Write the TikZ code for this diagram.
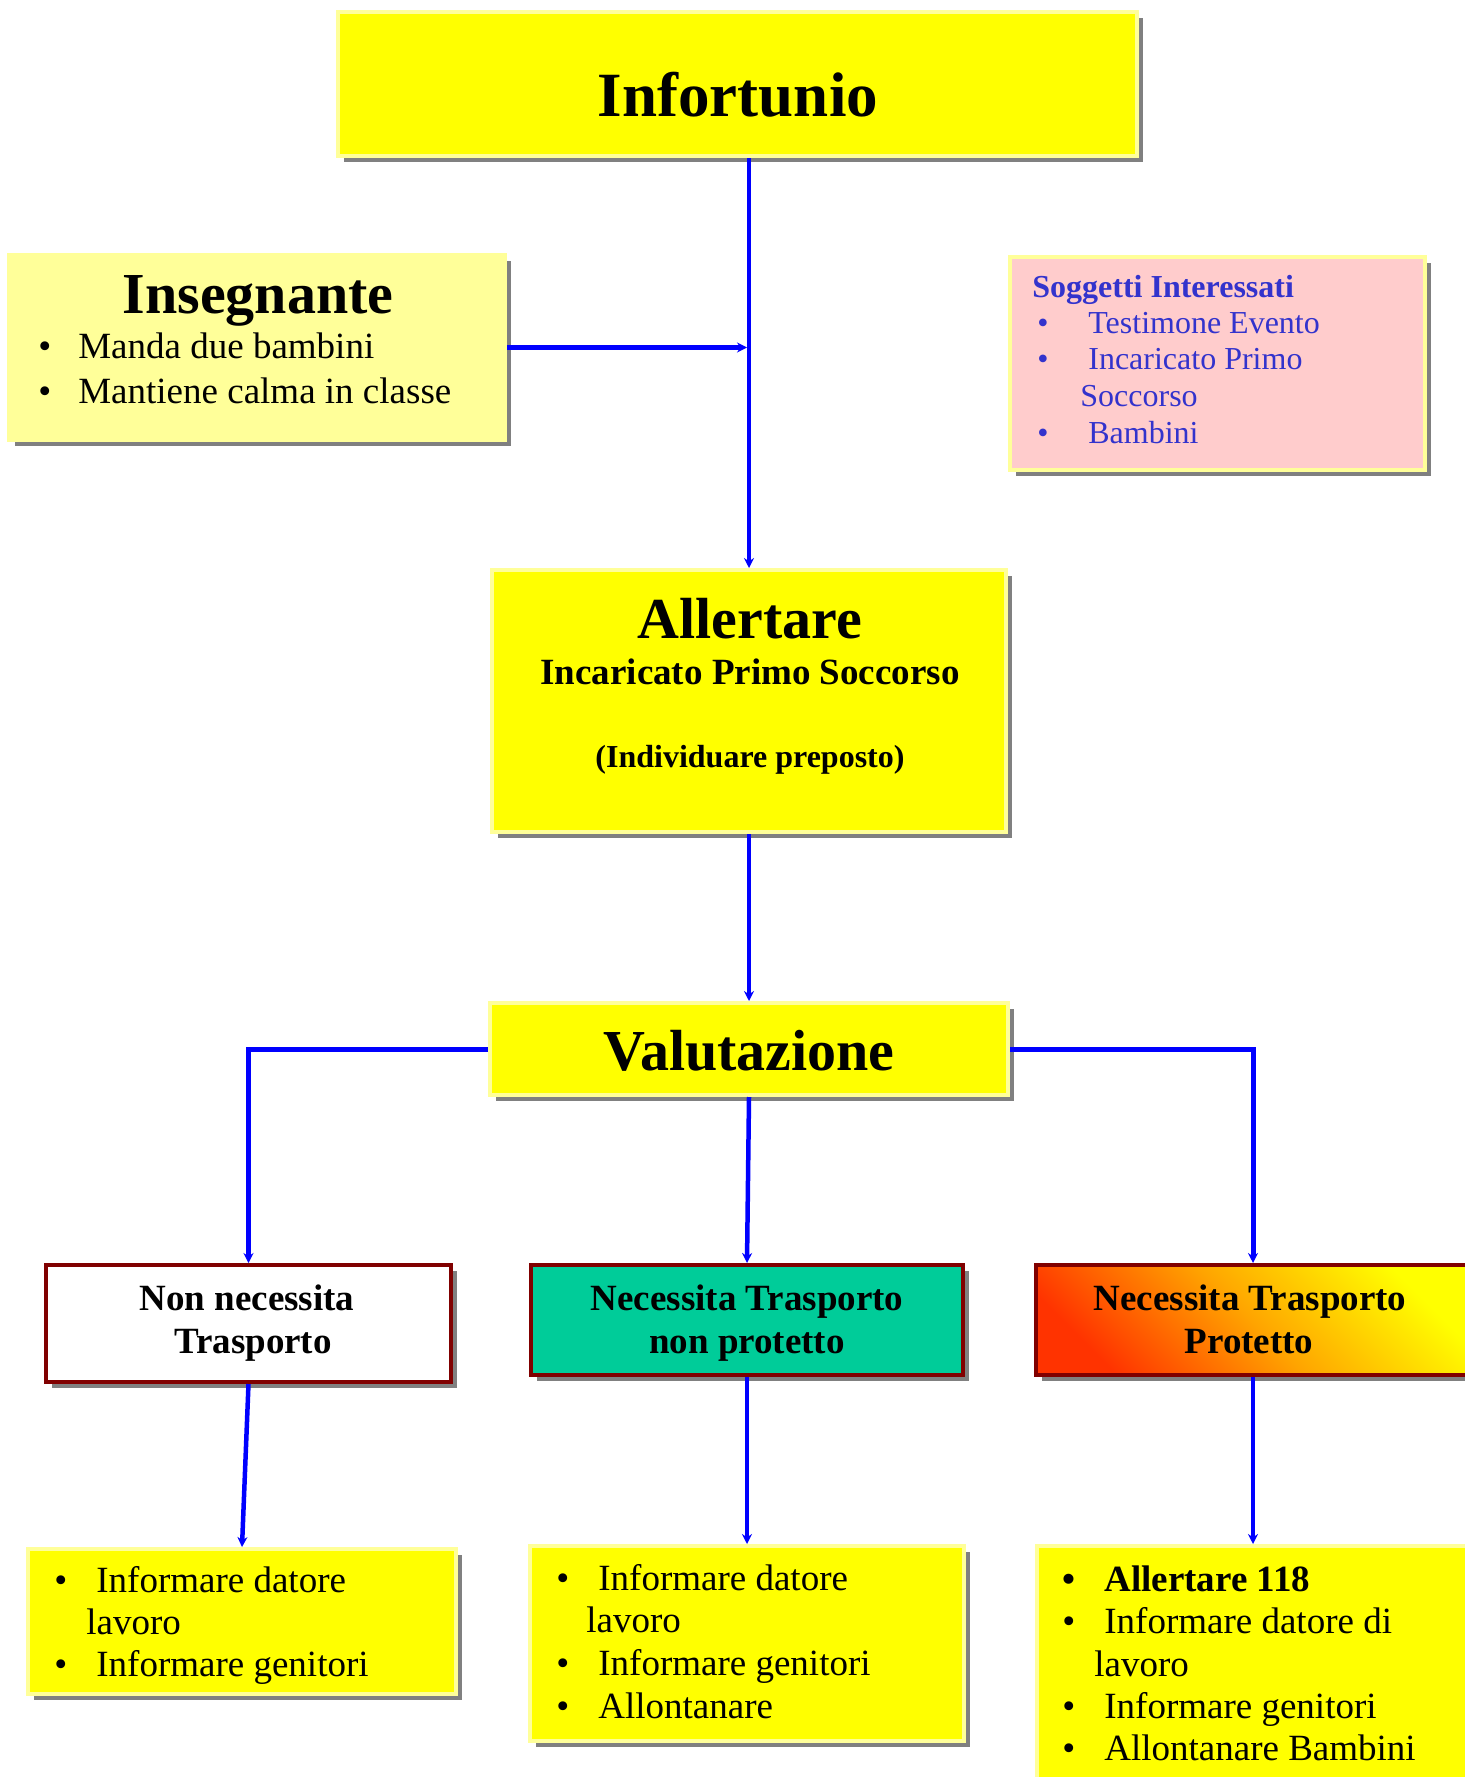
\documentclass[tikz,border=0pt]{standalone}
\usepackage{fontspec}
\setmainfont{Liberation Serif}
\usetikzlibrary{arrows.meta,shadows}

\definecolor{giallo}{HTML}{FFFF00}
\definecolor{giallochiaro}{HTML}{FFFF99}
\definecolor{rosa}{HTML}{FFCCCC}
\definecolor{verdeacqua}{HTML}{00CC99}
\definecolor{bordeaux}{HTML}{800000}
\definecolor{bluscritta}{HTML}{3333CC}
\definecolor{ombra}{HTML}{808080}
\definecolor{rossoarancio}{HTML}{FF3300}
\definecolor{arancio}{HTML}{FFA500}

\newcommand{\fontTitolo}{\bfseries\fontsize{58}{64}\selectfont}
\newcommand{\fontVoce}{\fontsize{37}{42}\selectfont}
\newcommand{\fontPiccolo}{\fontsize{32}{36}\selectfont}

\tikzset{every picture/.style={line width=0.75pt}}
\tikzset{
  scatola/.style={rectangle, line width=4pt, inner sep=0pt,
    drop shadow={shadow xshift=6pt, shadow yshift=-6pt, fill=ombra, opacity=1}},
  gialla/.style={scatola, draw=giallochiaro, fill=giallo},
  rossa/.style={scatola, draw=bordeaux},
  freccia/.style={draw=blue, line width=4.5pt, -{Stealth[length=10pt,width=10pt]}},
  centro/.style={inner sep=0pt, anchor=base},
  testo/.style={inner sep=0pt, anchor=base west},
}

\begin{document}
\begin{tikzpicture}[x=1pt,y=1pt,yscale=-1,xscale=1]
\useasboundingbox (0,0) rectangle (1464,1777);

%Shape: Rectangle [Infortunio]
\node (inf) [gialla, minimum width=799, minimum height=144] at (737.5,84) {};
%Shape: Rectangle [Insegnante]
\node (ins) [scatola, draw=giallochiaro, fill=giallochiaro, minimum width=496, minimum height=185] at (257,347.5) {};
%Shape: Rectangle [Soggetti]
\node (sog) [scatola, draw=giallochiaro, fill=rosa, minimum width=415, minimum height=213] at (1217.5,363.5) {};
%Shape: Rectangle [Allertare]
\node (all) [gialla, minimum width=514, minimum height=262] at (749,701) {};
%Shape: Rectangle [Valutazione]
\node (val) [gialla, minimum width=518, minimum height=92] at (749,1049) {};
%Shape: Rectangle [Non necessita]
\node (nn) [rossa, fill=white, minimum width=405, minimum height=117] at (248.5,1323.5) {};
%Shape: Rectangle [non protetto]
\node (nnp) [rossa, fill=verdeacqua, minimum width=432, minimum height=110] at (747,1320) {};
%Shape: Rectangle [Protetto]
\node (np) [rossa, top color=giallo, bottom color=rossoarancio, middle color=arancio, shading angle=-45, minimum width=434, minimum height=110] at (1253,1320) {};
%Shape: Rectangle [liste]
\node (bl) [gialla, minimum width=428, minimum height=145] at (242,1621.5) {};
\node (bm) [gialla, minimum width=434, minimum height=195] at (747,1643.5) {};
\node (br) [gialla, minimum width=432, minimum height=242] at (1253,1667) {};

%Straight Lines
\draw [freccia] (inf.south -| all.north) -- (all.north);
\draw [freccia, line width=5.5pt, shorten >=2pt] (ins.east) -- (ins.east -| all.north);
\draw [freccia] (all.south) -- (val.north);
\draw [freccia, line width=5pt] (val.west) -| (nn.north);
\draw [freccia, line width=5pt] (val.east) -| (np.north);
\draw [freccia] (val.south) -- (nnp.north);
\draw [freccia] (nn.south) -- (bl.north);
\draw [freccia] (nnp.south) -- (bm.north);
\draw [freccia] (np.south) -- (br.north);

% Text Node
\draw (738,116) node (tInf) [centro][font=\bfseries\fontsize{63}{70}\selectfont] {Infortunio};
% Text Node
\draw (258,313) node (tIns) [centro][font=\fontTitolo] {Insegnante};
\draw (38,358) node (tIns1) [testo][font=\fontVoce] {\makebox[40pt][l]{•}Manda due bambini};
\draw (38,403) node (tIns2) [testo][font=\fontVoce] {\makebox[40pt][l]{•}Mantiene calma in classe};
% Text Node
\draw (1032,297) node (tSog) [testo][font=\bfseries\fontPiccolo, text=bluscritta] {Soggetti Interessati};
\draw (1037,333) node (tSog1) [testo][font=\fontPiccolo, text=bluscritta] {\makebox[51pt][l]{•}Testimone Evento};
\draw (1037,369) node (tSog2) [testo][font=\fontPiccolo, text=bluscritta] {\makebox[51pt][l]{•}Incaricato Primo};
\draw (1080,406) node (tSog2b) [testo][font=\fontPiccolo, text=bluscritta] {Soccorso};
\draw (1037,443) node (tSog3) [testo][font=\fontPiccolo, text=bluscritta] {\makebox[51pt][l]{•}Bambini};
% Text Node
\draw (750,638) node (tAll) [centro][font=\fontTitolo] {Allertare};
\draw (750,684) node (tAll1) [centro][font=\bfseries\fontVoce] {Incaricato Primo Soccorso};
\draw (750,767) node (tAll2) [centro][font=\bfseries\fontPiccolo] {(Individuare preposto)};
% Text Node
\draw (749,1070) node (tVal) [centro][font=\fontTitolo] {Valutazione};
% Text Node
\draw (247,1310) node (tNn1) [centro][font=\bfseries\fontVoce] {Non necessita};
\draw (253,1353) node (tNn2) [centro][font=\bfseries\fontVoce] {Trasporto};
\draw (747,1310) node (tNnp1) [centro][font=\bfseries\fontVoce] {Necessita Trasporto};
\draw (747,1353) node (tNnp2) [centro][font=\bfseries\fontVoce] {non protetto};
\draw (1250,1310) node (tNp1) [centro][font=\bfseries\fontVoce] {Necessita Trasporto};
\draw (1249,1353) node (tNp2) [centro][font=\bfseries\fontVoce] {Protetto};
% Text Node
\draw (54,1592) node (tBl1) [testo][font=\fontVoce] {\makebox[42pt][l]{•}Informare datore};
\draw (86,1634) node (tBl1b) [testo][font=\fontVoce] {lavoro};
\draw (54,1676) node (tBl2) [testo][font=\fontVoce] {\makebox[42pt][l]{•}Informare genitori};
% Text Node
\draw (556,1590) node (tBm1) [testo][font=\fontVoce] {\makebox[42pt][l]{•}Informare datore};
\draw (586,1632) node (tBm1b) [testo][font=\fontVoce] {lavoro};
\draw (556,1675) node (tBm2) [testo][font=\fontVoce] {\makebox[42pt][l]{•}Informare genitori};
\draw (556,1718) node (tBm3) [testo][font=\fontVoce] {\makebox[42pt][l]{•}Allontanare};
% Text Node
\draw (1062,1591) node (tBr1) [testo][font=\bfseries\fontVoce] {\makebox[42pt][l]{•}Allertare 118};
\draw (1062,1633) node (tBr2) [testo][font=\fontVoce] {\makebox[42pt][l]{•}Informare datore di};
\draw (1094,1676) node (tBr2b) [testo][font=\fontVoce] {lavoro};
\draw (1062,1718) node (tBr3) [testo][font=\fontVoce] {\makebox[42pt][l]{•}Informare genitori};
\draw (1062,1760) node (tBr4) [testo][font=\fontVoce] {\makebox[42pt][l]{•}Allontanare Bambini};
\end{tikzpicture}
\end{document}
